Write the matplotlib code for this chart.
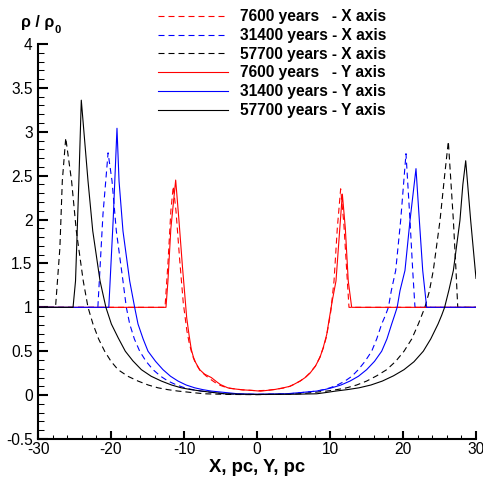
import matplotlib
matplotlib.use("Agg")
import matplotlib.pyplot as plt
from matplotlib.ticker import MultipleLocator

plt.rcParams['font.family'] = ['Liberation Sans', 'DejaVu Sans']
plt.rcParams['axes.unicode_minus'] = False

# ---------------- data ----------------
# 7600 years - X axis (dashed red)
x_7600_x = [-30, -12.6, -12.2, -11.8, -11.47, -11.1, -10.6, -10.1, -9.6, -9.3, -9.0, -8.7,
            -8.4, -7.8, -7.0, -6.2, -5.5, -5.0, -4.0, -3.0, -2.0, 0.0, 1.5, 2.5, 3.6, 4.5,
            5.0, 5.9, 6.6, 7.2, 8.0, 8.6, 9.1, 9.5, 9.8, 10.1, 10.55, 11.0, 11.46, 11.9,
            12.3, 12.6, 30]
y_7600_x = [1, 1, 1.5, 2.1, 2.38, 2.1, 1.55, 1.05, 0.73, 0.60, 0.50, 0.42,
            0.36, 0.28, 0.22, 0.17, 0.13, 0.11, 0.08, 0.07, 0.06, 0.05, 0.055, 0.065, 0.08, 0.10,
            0.12, 0.16, 0.20, 0.25, 0.33, 0.43, 0.54, 0.66, 0.80, 0.95, 1.30, 1.90, 2.35, 1.95,
            1.40, 1, 1]

# 31400 years - X axis (dashed blue)
x_31400_x = [-30, -21.8, -21.1, -20.4, -19.86, -19.27, -18.36, -17.9, -17.44, -16.8, -16.07,
             -15.2, -14.25, -13.2, -12.19, -11.0, -9.9, -8.8, -7.63, -6.0, -4.43, 0.0, 4.43,
             6.3, 8.17, 9.1, 10.0, 11.0, 12.05, 13.0, 13.88, 14.8, 15.71, 16.4, 17.08, 17.6,
             18.0, 18.4, 19.0, 19.68, 20.41, 20.96, 21.33, 21.64, 30]
y_31400_x = [1, 1, 2.06, 2.76, 2.44, 1.87, 1.30, 1.0, 0.81, 0.64, 0.50,
             0.385, 0.29, 0.215, 0.16, 0.115, 0.083, 0.062, 0.046, 0.03, 0.015, 0.008, 0.015,
             0.03, 0.046, 0.062, 0.083, 0.115, 0.16, 0.215, 0.29, 0.385, 0.50, 0.64, 0.81, 0.91,
             1.0, 1.19, 1.42, 1.99, 2.75, 1.99, 1.42, 1.0, 1]

# 57700 years - X axis (dashed black)
x_57700_x = [-30, -27.6, -27.0, -26.67, -26.2, -25.4, -24.75, -23.8, -23.15, -22.47, -21.7,
             -20.87, -20.0, -19.04, -17.7, -16.3, -14.9, -13.56, -12.2, -10.82, -9.0, -7.17,
             -4.0, 0.0, 5.9, 7.7, 9.55, 10.9, 12.28, 13.65, 15.02, 16.4, 17.77, 19.0, 20.14,
             21.2, 22.1, 23.0, 23.6, 24.15, 25.07, 25.7, 26.21, 26.9, 27.26, 27.5, 30]
y_57700_x = [1, 1, 1.68, 2.44, 2.93, 2.44, 1.87, 1.30, 1.0, 0.81, 0.64,
             0.50, 0.385, 0.29, 0.215, 0.16, 0.115, 0.083, 0.062, 0.046, 0.03, 0.015,
             0.008, 0.005, 0.015, 0.03, 0.046, 0.062, 0.083, 0.115, 0.16, 0.22, 0.29, 0.385, 0.50,
             0.64, 0.81, 1.0, 1.18, 1.42, 1.99, 2.5, 2.89, 1.99, 1.42, 1.0, 1]

# 7600 years - Y axis (solid red)
x_7600_y = [-30, -12.47, -12.2, -11.8, -11.14, -10.7, -10.2, -9.63, -9.3, -9.0, -8.7, -8.4,
            -7.85, -7.2, -6.26, -5.5, -5.0, -4.0, -3.0, -2.0, -0.78, 0.5, 1.5, 2.5, 3.6, 4.5,
            5.0, 5.9, 6.6, 7.26, 8.0, 8.63, 9.1, 9.55, 9.9, 10.3, 10.82, 11.3, 11.69, 12.1,
            12.5, 12.97, 30]
y_7600_y = [1, 1, 1.3, 1.9, 2.45, 2.0, 1.45, 0.88, 0.68, 0.52, 0.43, 0.37,
            0.29, 0.24, 0.20, 0.15, 0.12, 0.083, 0.07, 0.06, 0.054, 0.045, 0.055, 0.065, 0.083,
            0.10, 0.12, 0.16, 0.20, 0.25, 0.33, 0.43, 0.55, 0.69, 0.87, 1.07, 1.30, 1.85, 2.29,
            1.90, 1.30, 1, 1]

# 31400 years - Y axis (solid blue)
x_31400_y = [-30, -20.3, -19.7, -19.18, -18.9, -18.36, -17.44, -16.76, -16.3, -15.6, -14.93,
             -13.9, -12.88, -11.85, -10.82, -9.7, -8.53, -7.4, -6.26, -4.4, -2.6, 0.0, 4.0,
             6.1, 8.17, 9.2, 10.23, 11.5, 12.74, 13.9, 15.02, 16.1, 17.08, 17.8, 18.45, 18.85,
             19.2, 19.59, 20.27, 20.96, 21.78, 22.24, 22.7, 23.24, 30]
y_31400_y = [1, 1, 2.0, 3.04, 2.44, 1.87, 1.30, 1.0, 0.81, 0.64, 0.50,
             0.385, 0.29, 0.215, 0.16, 0.115, 0.083, 0.062, 0.046, 0.03, 0.015, 0.01, 0.015,
             0.03, 0.046, 0.062, 0.083, 0.115, 0.16, 0.215, 0.29, 0.385, 0.50, 0.64, 0.81, 0.91,
             1.0, 1.19, 1.42, 1.99, 2.58, 1.99, 1.42, 1.0, 1]

# 57700 years - Y axis (solid black)
x_57700_y = [-30, -25.2, -24.86, -24.4, -24.07, -23.15, -22.5, -21.5, -20.7, -19.95, -19.0,
             -18.04, -17.0, -15.84, -14.5, -13.1, -11.7, -10.37, -9.0, -7.63, -6.0, -4.43,
             -2.0, 0.0, 5.0, 8.17, 9.5, 10.78, 12.4, 13.97, 15.6, 17.17, 18.7, 20.14, 21.5,
             22.78, 23.8, 24.8, 25.3, 25.7, 26.3, 26.9, 27.8, 28.2, 28.59, 29.27, 30]
y_57700_y = [1, 1, 1.30, 2.44, 3.36, 2.44, 1.87, 1.30, 1.0, 0.81, 0.65,
             0.50, 0.39, 0.29, 0.215, 0.16, 0.115, 0.083, 0.062, 0.046, 0.03, 0.015,
             0.01, 0.008, 0.01, 0.015, 0.03, 0.046, 0.063, 0.083, 0.115, 0.16, 0.22, 0.29, 0.38,
             0.50, 0.64, 0.81, 0.91, 1.0, 1.2, 1.42, 1.99, 2.4, 2.67, 1.99, 1.33]

labels = ["7600 years   - X axis", "31400 years - X axis", "57700 years - X axis",
          "7600 years   - Y axis", "31400 years - Y axis", "57700 years - Y axis"]

# ---------------- figure ----------------
W, H = 483, 478
fig = plt.figure(figsize=(W / 100, H / 100), dpi=100)
ax = fig.add_axes([38 / W, 1 - 439 / H, (476 - 38) / W, (439 - 44) / H])

dash = (0, (5.4, 3.6))
lw = 0.8
series = [
    (x_7600_x, y_7600_x, 'red', dash),
    (x_31400_x, y_31400_x, 'blue', dash),
    (x_57700_x, y_57700_x, 'black', dash),
    (x_7600_y, y_7600_y, 'red', '-'),
    (x_31400_y, y_31400_y, 'blue', '-'),
    (x_57700_y, y_57700_y, 'black', '-'),
]
for (xs, ys, c, ls), lab in zip(series, labels):
    ax.plot(xs, ys, color=c, linestyle=ls, linewidth=lw, label=lab)

ax.set_xlim(-30, 30)
ax.set_ylim(-0.5, 4)
ax.xaxis.set_major_locator(MultipleLocator(10))
ax.xaxis.set_minor_locator(MultipleLocator(2))
ax.yaxis.set_minor_locator(MultipleLocator(0.1))
ax.set_yticks([-0.5, 0, 0.5, 1, 1.5, 2, 2.5, 3, 3.5, 4])
ax.set_yticklabels(['-0.5', '0', '0.5', '1', '1.5', '2', '2.5', '3', '3.5', '4'])

for s in ['top', 'right']:
    ax.spines[s].set_visible(False)
for s in ['left', 'bottom']:
    ax.spines[s].set_linewidth(1.5)

ax.tick_params(which='major', direction='in', width=1.5, labelsize=11.2)
ax.tick_params(which='minor', direction='in', width=0.75)
ax.tick_params(axis='y', which='major', length=7.5, pad=3.9)
ax.tick_params(axis='y', which='minor', length=4.3)
ax.tick_params(axis='x', which='major', length=6, pad=1.8)
ax.tick_params(axis='x', which='minor', length=3)

ax.set_xlabel("X, pc, Y, pc", fontsize=13.3, fontweight='bold', va='baseline')
ax.xaxis.set_label_coords(0.5, -(472 - 439) / (439 - 44))

t = fig.text(21 / W, 1 - 27 / H, "ρ / ρ", fontsize=11.5, fontweight='bold',
             ha='left', va='baseline')
ax.annotate("0", xy=(1, 0), xycoords=t, xytext=(0.5, -2), textcoords='offset points',
            fontsize=8, fontweight='bold', ha='left', va='baseline')

ax.legend(loc='upper left', bbox_to_anchor=(158 / W, 1 - 9.3 / H),
          bbox_transform=fig.transFigure, frameon=False,
          prop={'size': 11.2, 'weight': 'bold'}, handlelength=4.5, handletextpad=0.77,
          labelspacing=0.24, borderpad=0, borderaxespad=0)

fig.savefig("out.png", dpi=100)
